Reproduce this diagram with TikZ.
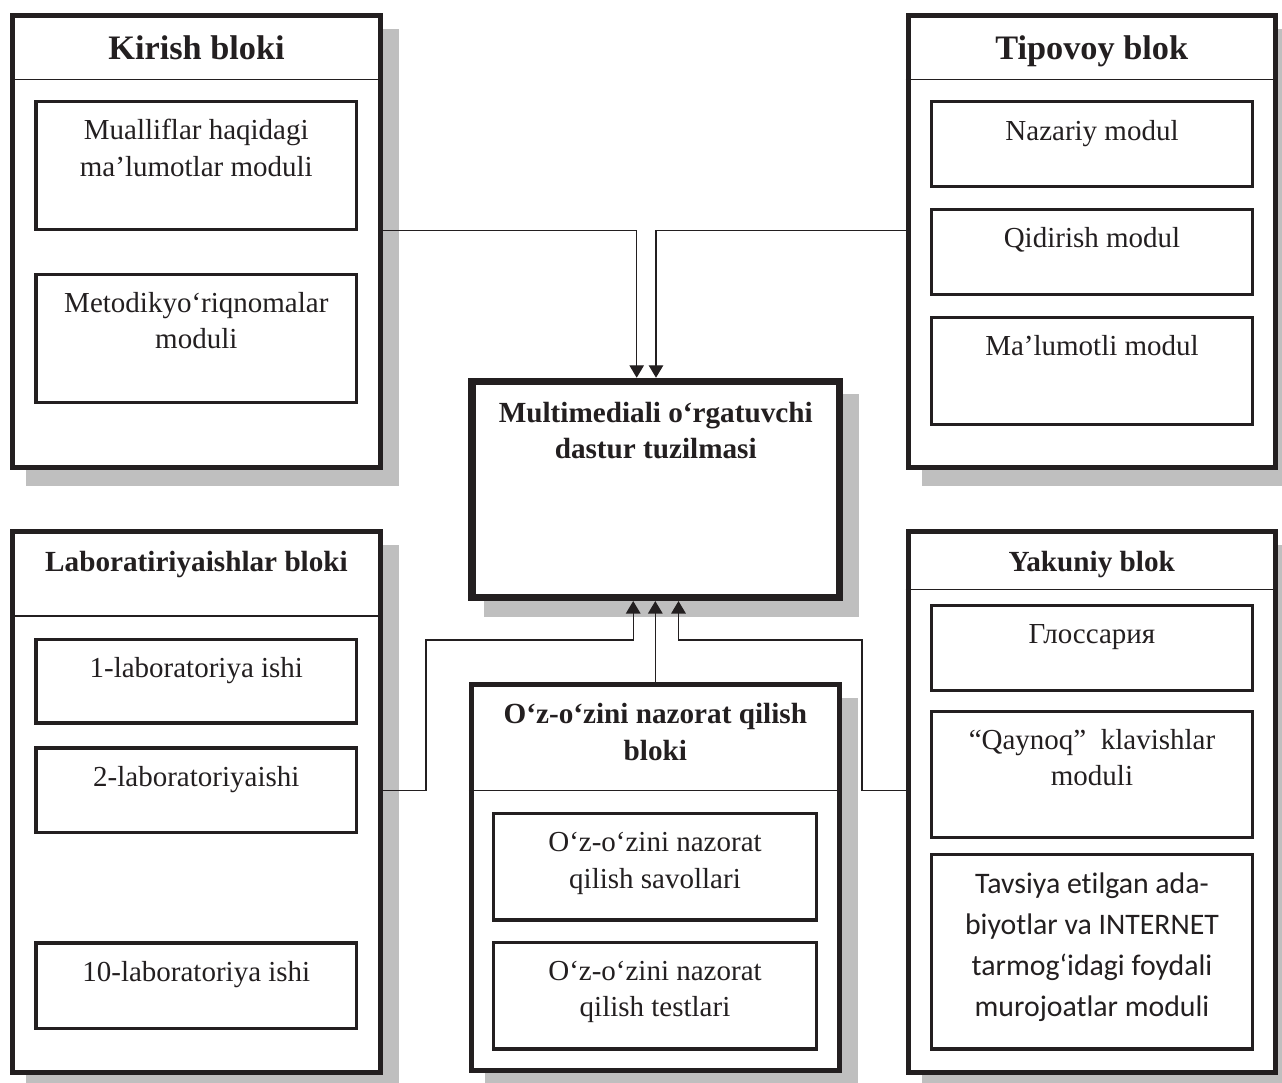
\documentclass[tikz,border=0pt]{standalone}
\usepackage{fontspec}
\setmainfont{Liberation Serif}
\newfontfamily\calfont[Ligatures=NoCommon]{Carlito}
\usetikzlibrary{arrows.meta,fit}
\definecolor{ink}{HTML}{231F20}
\definecolor{shadowc}{HTML}{BFBFBF}
\pgfdeclarelayer{bg}
\pgfsetlayers{bg,main}
\tikzset{
  blk/.style={draw=ink, line width=5pt, inner sep=0pt, fill=white},
  mainbox/.style={draw=ink, line width=7.5pt, inner sep=0pt, fill=white},
  modbox/.style={draw=ink, line width=3.2pt, inner sep=0pt},
  hdr/.style={draw=ink, line width=1.5pt},
  conn/.style={draw=ink, line width=1.4pt},
  arr/.style={conn, -{Triangle[width=14.5pt,length=12.5pt]}},
  bigtitle/.style={font=\bfseries\fontsize{34.3}{40}\selectfont, anchor=base, inner sep=0pt, text=ink},
  title/.style={font=\bfseries\fontsize{29.2}{36.2}\selectfont, align=center, anchor=base, inner sep=0pt, text=ink},
  txt/.style={font=\fontsize{29}{36.3}\selectfont, align=center, anchor=base, inner sep=0pt, text=ink},
  caltxt/.style={font=\calfont\fontsize{29.8}{41}\selectfont, align=center, anchor=base, inner sep=0pt, text=ink}
}
% multi-line nodes: anchor=base sits on the LAST line's baseline
\newcommand{\dropshade}[1]{%
  \begin{pgfonlayer}{bg}
    \fill[shadowc] ([shift={(16pt,-16pt)}]#1.south west) rectangle ([shift={(16pt,-16pt)}]#1.north east);
  \end{pgfonlayer}}
\begin{document}
\begin{tikzpicture}[x=1pt,y=-1pt]
\useasboundingbox (0,0) rectangle (1282,1083);
\clip (0,0) rectangle (1282,1083);

% ---------- blocks ----------
\node[blk, fit={(12.5,15.2) (380.5,467.5)}] (kir) {};
\node[blk, fit={(908.2,15.2) (1275.2,467.5)}] (tip) {};
\node[mainbox, fit={(472,381.5) (839.5,597.3)}] (cen) {};
\node[blk, fit={(12.5,531.8) (380.5,1072.5)}] (lab) {};
\node[blk, fit={(471.3,684.5) (839.3,1070.5)}] (naz) {};
\node[blk, fit={(908.2,531.8) (1275.2,1072.5)}] (yak) {};
\dropshade{kir}\dropshade{tip}\dropshade{cen}\dropshade{lab}\dropshade{naz}\dropshade{yak}

% header lines
\draw[hdr] (kir.west |- 0,79.5) -- (kir.east |- 0,79.5);
\draw[hdr] (tip.west |- 0,79.5) -- (tip.east |- 0,79.5);
\draw[hdr] (lab.west |- 0,616) -- (lab.east |- 0,616);
\draw[hdr] (naz.west |- 0,790.7) -- (naz.east |- 0,790.7);
\draw[hdr] (yak.west |- 0,589.5) -- (yak.east |- 0,589.5);

% ---------- inner modules ----------
\node[modbox, fit={(36,101.6) (356.6,229.4)}] (k1) {};
\node[modbox, fit={(36,274.3) (356.6,402.7)}] (k2) {};
\node[modbox, fit={(931.6,101.6) (1252.4,186.7)}] (p1) {};
\node[modbox, fit={(931.6,209.9) (1252.4,294.4)}] (p2) {};
\node[modbox, fit={(931.6,317.6) (1252.4,424.4)}] (p3) {};
\node[modbox, fit={(36,639.6) (356.6,723)}] (l1) {};
\node[modbox, fit={(36,748) (356.6,832.2)}] (l2) {};
\node[modbox, fit={(36,943) (356.6,1028.4)}] (l3) {};
\node[modbox, fit={(493.6,813.3) (816.4,920)}] (n1) {};
\node[modbox, fit={(493.6,942.3) (816.4,1049)}] (n2) {};
\node[modbox, fit={(931.6,605.6) (1252.4,690.4)}] (y1) {};
\node[modbox, fit={(931.6,711.6) (1252.4,837.4)}] (y2) {};
\node[modbox, fit={(931.6,854.6) (1252.4,1049)}] (y3) {};

% ---------- texts ----------
\node[bigtitle] (kirT) at (196.5,60) {Kirish bloki};
\node[bigtitle] (tipT) at (1091.7,60) {Tipovoy blok};
\node[title] (cenT) at (655.75,458.5) {Multimediali o‘rgatuvchi\\dastur tuzilmasi};
\node[title] (labT) at (196.5,571.3) {Laboratiriyaishlar bloki};
\node[title] (nazT) at (655.3,760) {O‘z-o‘zini nazorat qilish\\bloki};
\node[title] (yakT) at (1091.7,571.5) {Yakuniy blok};

\node[txt] (k1T) at (196.3,176.3) {Mualliflar haqidagi\\ma’lumotlar moduli};
\node[txt] (k2T) at (196.3,348.6) {Metodikyo‘riqnomalar\\moduli};
\node[txt] (p1T) at (1092,140.7) {Nazariy modul};
\node[txt] (p2T) at (1092,247.3) {Qidirish modul};
\node[txt] (p3T) at (1092,355.7) {Ma’lumotli modul};
\node[txt] (l1T) at (196.3,677.8) {1-laboratoriya ishi};
\node[txt] (l2T) at (196.3,786) {2-laboratoriyaishi};
\node[txt] (l3T) at (196.3,981) {10-laboratoriya ishi};
\node[txt] (n1T) at (655,888.2) {O‘z-o‘zini nazorat\\qilish savollari};
\node[txt] (n2T) at (655,1016.5) {O‘z-o‘zini nazorat\\qilish testlari};
\node[txt] (y1T) at (1092,643.3) {Глоссария};
\node[txt] (y2T) at (1092,785.3) {“Qaynoq”~~klavishlar\\moduli};
\node[caltxt] (y3T) at (1092,1016) {Tavsiya etilgan ada-\\biyotlar va INTERNET\\tarmog‘idagi foydali\\murojoatlar moduli};

% ---------- connectors ----------
\coordinate (ka) at (636.7,230.7);
\coordinate (ta) at (656,230.7);
\draw[arr] (kir.east |- ka) -- (ka) -- (ka |- cen.north);
\draw[arr] (tip.west |- ta) -- (ta) -- (ta |- cen.north);

\coordinate (la) at (426,790.7);
\coordinate (lb) at (633.2,640);
\coordinate (ya) at (862,790.7);
\coordinate (yb) at (678.5,640);
\draw[arr] (lab.east |- la) -- (la) |- (lb) -- (lb |- cen.south);
\draw[arr] (naz.north) -- (naz.north |- cen.south);
\draw[arr] (yak.west |- ya) -- (ya) |- (yb) -- (yb |- cen.south);
\end{tikzpicture}
\end{document}
